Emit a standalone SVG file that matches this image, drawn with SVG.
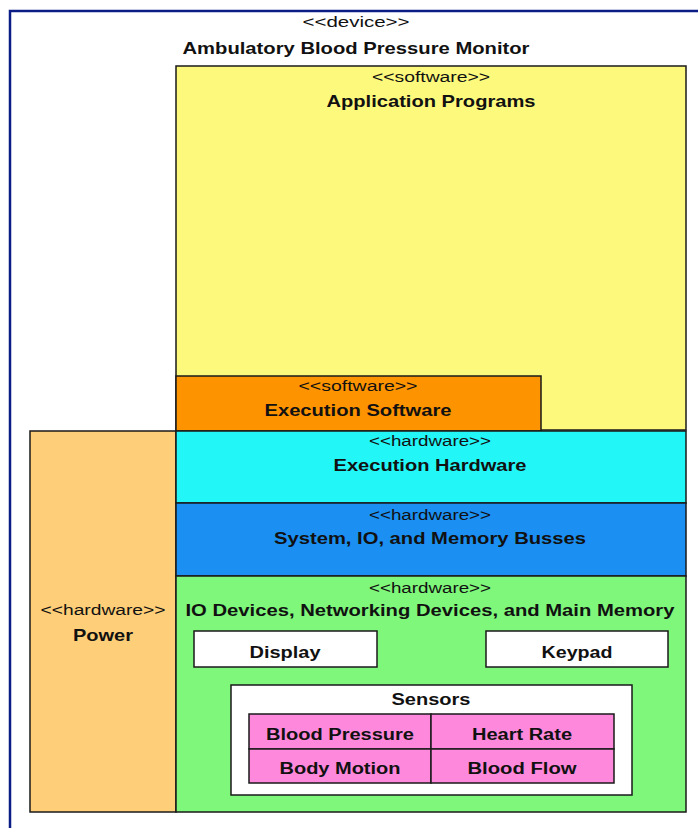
<svg xmlns="http://www.w3.org/2000/svg" width="698" height="828" viewBox="0 0 698 828">
<style>
.box{stroke:#1a1a1a;stroke-width:1.5}
text{font-family:"Liberation Sans",Arial,sans-serif;fill:#111;text-anchor:middle}
.st{font-size:14px}
.nm{font-size:17px;font-weight:bold}
.sm{font-size:16px;font-weight:bold}
</style>
<rect width="698" height="828" fill="#ffffff"/>
<g id="device">
<rect x="10" y="11" width="700" height="830" fill="#ffffff" stroke="#0b1c86" stroke-width="2.5"/>
<text class="st" x="356" y="27" textLength="107" lengthAdjust="spacingAndGlyphs">&lt;&lt;device&gt;&gt;</text>
<text class="nm" x="356" y="54" textLength="347" lengthAdjust="spacingAndGlyphs">Ambulatory Blood Pressure Monitor</text>
</g>
<g id="application-programs">
<rect class="box" x="176" y="66" width="510" height="364" fill="#fdf97c"/>
<text class="st" x="431" y="82" textLength="118" lengthAdjust="spacingAndGlyphs">&lt;&lt;software&gt;&gt;</text>
<text class="nm" x="431" y="107" textLength="209" lengthAdjust="spacingAndGlyphs">Application Programs</text>
</g>
<g id="execution-software">
<rect class="box" x="176" y="376" width="365" height="55" fill="#fe9300"/>
<text class="st" x="358" y="391" textLength="119" lengthAdjust="spacingAndGlyphs">&lt;&lt;software&gt;&gt;</text>
<text class="nm" x="358" y="416" textLength="187" lengthAdjust="spacingAndGlyphs">Execution Software</text>
</g>
<g id="power">
<rect class="box" x="30" y="431" width="146" height="381" fill="#fece78"/>
<text class="st" x="103" y="615" textLength="125" lengthAdjust="spacingAndGlyphs">&lt;&lt;hardware&gt;&gt;</text>
<text class="nm" x="103" y="641" textLength="60" lengthAdjust="spacingAndGlyphs">Power</text>
</g>
<g id="execution-hardware">
<rect class="box" x="176" y="431" width="510" height="72" fill="#22f6f6"/>
<text class="st" x="430" y="446" textLength="122" lengthAdjust="spacingAndGlyphs">&lt;&lt;hardware&gt;&gt;</text>
<text class="nm" x="430" y="471" textLength="193" lengthAdjust="spacingAndGlyphs">Execution Hardware</text>
</g>
<g id="busses">
<rect class="box" x="176" y="503" width="510" height="73" fill="#1b8ff2"/>
<text class="st" x="430" y="520" textLength="122" lengthAdjust="spacingAndGlyphs">&lt;&lt;hardware&gt;&gt;</text>
<text class="nm" x="430" y="544" textLength="312" lengthAdjust="spacingAndGlyphs">System, IO, and Memory Busses</text>
</g>
<g id="io-devices">
<rect class="box" x="176" y="576" width="510" height="236" fill="#7ef77a"/>
<text class="st" x="430" y="593" textLength="122" lengthAdjust="spacingAndGlyphs">&lt;&lt;hardware&gt;&gt;</text>
<text class="nm" x="430" y="616" textLength="489" lengthAdjust="spacingAndGlyphs">IO Devices, Networking Devices, and Main Memory</text>
</g>
<g id="display">
<rect class="box" x="194" y="631" width="183" height="36" fill="#ffffff"/>
<text class="sm" x="285" y="658" textLength="71" lengthAdjust="spacingAndGlyphs">Display</text>
</g>
<g id="keypad">
<rect class="box" x="486" y="631" width="182" height="36" fill="#ffffff"/>
<text class="sm" x="577" y="658" textLength="71" lengthAdjust="spacingAndGlyphs">Keypad</text>
</g>
<g id="sensors">
<rect class="box" x="231" y="685" width="401" height="110" fill="#ffffff"/>
<text class="sm" x="431" y="705" textLength="79" lengthAdjust="spacingAndGlyphs">Sensors</text>
</g>
<g id="blood-pressure">
<rect class="box" x="249" y="714" width="182" height="35" fill="#fe88dc"/>
<text class="sm" x="340" y="740" textLength="148" lengthAdjust="spacingAndGlyphs">Blood Pressure</text>
</g>
<g id="heart-rate">
<rect class="box" x="431" y="714" width="183" height="35" fill="#fe88dc"/>
<text class="sm" x="522" y="740" textLength="100" lengthAdjust="spacingAndGlyphs">Heart Rate</text>
</g>
<g id="body-motion">
<rect class="box" x="249" y="749" width="182" height="34" fill="#fe88dc"/>
<text class="sm" x="340" y="774" textLength="121" lengthAdjust="spacingAndGlyphs">Body Motion</text>
</g>
<g id="blood-flow">
<rect class="box" x="431" y="749" width="183" height="34" fill="#fe88dc"/>
<text class="sm" x="522" y="774" textLength="109" lengthAdjust="spacingAndGlyphs">Blood Flow</text>
</g>
<g id="connectors"></g>
</svg>
